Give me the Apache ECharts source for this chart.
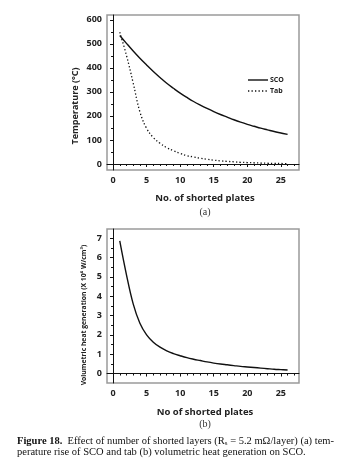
<!DOCTYPE html>
<html><head><meta charset="utf-8">
<script src="https://cdn.jsdelivr.net/npm/echarts@6/dist/echarts.min.js"></script>
<style>html,body{margin:0;padding:0;background:#fff}#c{width:362px;height:473px}</style>
</head><body><div id="c"></div>
<script>
const plates = [1,2,3,4,5,6,7,8,9,10,11,12,13,14,15,16,17,18,19,20,21,22,23,24,25,26];
const scoTemp = [535,502,470,440,412,385,360,336,315,295,277,260,245,231,218,206,195,184,174,165,157,149,142,135,129,123];
const tabTemp = [548,452,337,217,148,110,86,68,55,44,35,29,24,20,16,13,11,9,7,6,5,4,3,2,2,1];
const heatGen = [6.85,5.1,3.6,2.6,2.0,1.62,1.36,1.17,1.03,0.92,0.82,0.74,0.67,0.6,0.54,0.49,0.45,0.41,0.37,0.34,0.31,0.28,0.25,0.22,0.2,0.18];
const xTicks = [0,5,10,15,20,25];
const xMinor = [0,1,2,3,4,5,6,7,8,9,10,11,12,13,14,15,16,17,18,19,20,21,22,23,24,25,26,27];
const tempTicks = [0,100,200,300,400,500,600];
const tempMinor = [0,50,100,150,200,250,300,350,400,450,500,550,600];
const heatTicks = [0,1,2,3,4,5,6,7];
const heatMinor = [0,0.5,1,1.5,2,2.5,3,3.5,4,4.5,5,5.5,6,6.5,7];
const seriesNames = ['SCO','Tab'];

const lab = {fontFamily:'Open Sans', fontWeight:'bold', fontSize:9, color:'#222'};
function xMain(grid){return {type:'value',gridIndex:grid,min:-0.9,max:27.7,position:'bottom',
  axisLine:{show:true,lineStyle:{color:'#111',width:1}},
  axisTick:{show:true,length:3,inside:false,customValues:xTicks,lineStyle:{color:'#111'}},
  axisLabel:Object.assign({margin:6,customValues:xTicks},lab),splitLine:{show:false}};}
function xMin(grid){return {type:'value',gridIndex:grid,min:-0.9,max:27.7,position:'bottom',
  axisLine:{show:false},axisTick:{show:true,length:2,customValues:xMinor,lineStyle:{color:'#111'}},
  axisLabel:{show:false},splitLine:{show:false}};}
function yMain(grid,min,max,ticks){return {type:'value',gridIndex:grid,min:min,max:max,position:'left',
  axisLine:{show:true,lineStyle:{color:'#111',width:1}},
  axisTick:{show:true,length:3,customValues:ticks,lineStyle:{color:'#111'}},
  axisLabel:Object.assign({margin:5,customValues:ticks},lab),splitLine:{show:false}};}
function yMin(grid,min,max,ticks){return {type:'value',gridIndex:grid,min:min,max:max,position:'left',
  axisLine:{show:false},axisTick:{show:true,length:2,customValues:ticks,lineStyle:{color:'#111'}},
  axisLabel:{show:false},splitLine:{show:false}};}

const chart = echarts.init(document.getElementById('c'));
chart.setOption({
  animation:false,
  backgroundColor:'#fff',
  grid:[
    {left:107,top:15,width:192,height:155,show:true,borderColor:'#9a9a9a',borderWidth:1.5},
    {left:107,top:229,width:192,height:154,show:true,borderColor:'#9a9a9a',borderWidth:1.5}
  ],
  xAxis:[xMain(0),xMin(0),xMain(1),xMin(1)],
  yAxis:[yMain(0,-25,620,tempTicks),yMin(0,-25,620,tempMinor),yMain(1,-0.49,7.47,heatTicks),yMin(1,-0.49,7.47,heatMinor)],
  series:[
    {name:seriesNames[0],type:'line',xAxisIndex:0,yAxisIndex:0,symbol:'none',smooth:0.4,
     data:plates.map((p,i)=>[p,scoTemp[i]]),lineStyle:{color:'#111',width:1.4},itemStyle:{color:'#111'}},
    {name:seriesNames[1],type:'line',xAxisIndex:0,yAxisIndex:0,symbol:'none',smooth:0.4,
     data:plates.map((p,i)=>[p,tabTemp[i]]),lineStyle:{color:'#111',width:1.3,type:[1.3,2.2]},itemStyle:{color:'#111'}},
    {name:'Heat',type:'line',xAxisIndex:2,yAxisIndex:2,symbol:'none',smooth:0.4,
     data:plates.map((p,i)=>[p,heatGen[i]]),lineStyle:{color:'#111',width:1.4}}
  ],
  graphic:[
    {type:'line',shape:{x1:248,y1:80,x2:268,y2:80},style:{stroke:'#111',lineWidth:1.4}},
    {type:'text',x:270,y:80,style:{text:seriesNames[0],fontFamily:'Open Sans',fontWeight:'bold',fontSize:7,fill:'#222',verticalAlign:'middle'}},
    {type:'line',shape:{x1:248,y1:91,x2:268,y2:91},style:{stroke:'#111',lineWidth:1.3,lineDash:[1.3,2.2]}},
    {type:'text',x:270,y:91,style:{text:seriesNames[1],fontFamily:'Open Sans',fontWeight:'bold',fontSize:7,fill:'#222',verticalAlign:'middle'}},
    {type:'text',x:75,y:106,rotation:Math.PI/2,style:{text:'Temperature (°C)',fontFamily:'Open Sans',fontWeight:'bold',fontSize:9,fill:'#222',align:'center',verticalAlign:'middle'}},
    {type:'text',x:84,y:315,rotation:Math.PI/2,style:{text:'Volumetric heat generation (X 10\u2074 W/cm\u00B3)',fontFamily:'Open Sans',fontWeight:'bold',fontSize:6.8,fill:'#222',align:'center',verticalAlign:'middle'}},
    {type:'text',x:205,y:198,style:{text:'No. of shorted plates',fontFamily:'Open Sans',fontWeight:'bold',fontSize:9.5,fill:'#222',align:'center',verticalAlign:'middle'}},
    {type:'text',x:205,y:212,style:{text:'(a)',fontFamily:'Liberation Serif',fontSize:10,fill:'#333',align:'center',verticalAlign:'middle'}},
    {type:'text',x:205,y:412,style:{text:'No of shorted plates',fontFamily:'Open Sans',fontWeight:'bold',fontSize:9.5,fill:'#222',align:'center',verticalAlign:'middle'}},
    {type:'text',x:205,y:424,style:{text:'(b)',fontFamily:'Liberation Serif',fontSize:10,fill:'#333',align:'center',verticalAlign:'middle'}},
    {type:'text',x:17,y:441,style:{text:'{b|Figure 18.}  Effect of number of shorted layers (R{s|s} = 5.2 m\u03A9/layer) (a) tem-',
      fontFamily:'Liberation Serif',fontSize:10.5,fill:'#111',verticalAlign:'middle',
      rich:{b:{fontFamily:'Liberation Serif',fontWeight:'bold',fontSize:10.5,fill:'#111'},s:{fontFamily:'Liberation Serif',fontSize:7,fill:'#111',padding:[5,0,0,0]}}}},
    {type:'text',x:17,y:452,style:{text:'perature rise of SCO and tab (b) volumetric heat generation on SCO.',fontFamily:'Liberation Serif',fontSize:10.5,fill:'#111',verticalAlign:'middle'}}
  ]
});
</script></body></html>
